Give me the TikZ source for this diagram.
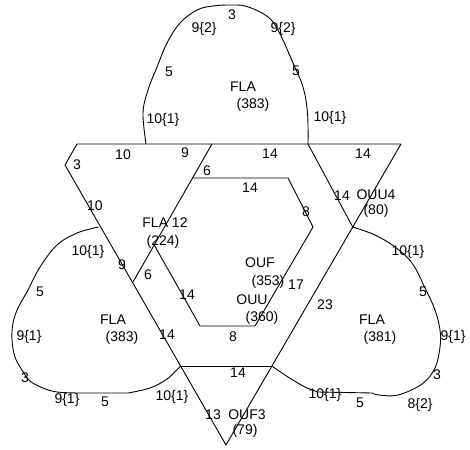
\documentclass[tikz,border=0pt]{standalone}
\usepackage{fontspec}
\setmainfont{Liberation Sans}
\begin{document}
\begin{tikzpicture}[x=1pt,y=-1pt,
  edge/.style={line width=0.9pt,line join=round},
  lbl/.style={inner sep=0pt,font=\fontsize{14}{16}\selectfont}]
\useasboundingbox[fill=white] (0,0) rectangle (470,449);
% outline coordinates
\coordinate (A) at (77,144);
\coordinate (B) at (65,165);
\coordinate (C) at (226,445);
\coordinate (D) at (401,144);
\coordinate (E) at (212,144);
\coordinate (F) at (133,282);
\coordinate (G) at (308,144);
\coordinate (J) at (352.7,227);
\coordinate (K) at (180.6,366);
\coordinate (L) at (271.9,366);
\coordinate (H1) at (192.5,178);
\coordinate (H2) at (288,178);
\coordinate (H3) at (313,227);
\coordinate (H4) at (255,326);
\coordinate (H5) at (200,326);
\coordinate (H6) at (154.2,245);
\coordinate (TL) at (146,144);
\coordinate (LL) at (98.5,227);
% triangle
\draw[edge] (D) -- (A) -- (B) -- (C) -- (D);
\draw[edge] (E) -- (F);
\draw[edge] (G) -- (J);
\draw[edge] (K) -- (L);
% hexagon
\draw[edge] (H1) -- (H2) -- (H3) -- (H4) -- (H5) -- (H6);
% top lobe
\draw[edge] plot[smooth,tension=0.6] coordinates {(TL) (143,113) (148,90) (157,67) (167,43) (180,23) (197,10) (213,6) (230,5) (245,6) (262,13) (273,22) (282,38) (293,63) (303,87) (307.5,113) (G)};
% left lobe
\draw[edge] plot[smooth,tension=0.6] coordinates {(LL) (77,233) (57,245) (40,267) (28,290) (18,308) (13,323) (12,340) (15,357) (22,370) (30,381) (43,388) (57,392) (78,393)}
  -- (128,393) plot[smooth,tension=0.6] coordinates {(128,393) (150,388) (167,379) (K)};
% right lobe
\draw[edge] plot[smooth,tension=0.6] coordinates {(J) (375,235) (395,247) (412,263) (425,288) (435,310) (440,330) (440,347) (435,368) (422,384) (398,395) (379,395) (372,393)}
  -- (318,392) plot[smooth,tension=0.6] coordinates {(318,392) (305,387) (288,377) (L)};
% top lobe labels
\node[lbl] (t1) at (232,15) {3};
\node[lbl] (t2) at (204,29) {9\{2\}};
\node[lbl] (t3) at (283,29) {9\{2\}};
\node[lbl] (t4) at (169,72) {5};
\node[lbl] (t5) at (296,71) {5};
\node[lbl] (t6) at (243,87) {FLA};
\node[lbl] (t7) at (253,105) {(383)};
\node[lbl] (t8) at (163,120) {10\{1\}};
\node[lbl] (t9) at (330,118) {10\{1\}};
% upper band labels
\node[lbl] (u1) at (77,165) {3};
\node[lbl] (u2) at (123,155) {10};
\node[lbl] (u3) at (185,153) {9};
\node[lbl] (u4) at (207,171) {6};
\node[lbl] (u5) at (270,154) {14};
\node[lbl] (u6) at (363,154) {14};
\node[lbl] (u7) at (250,188) {14};
\node[lbl] (u8) at (306,212) {8};
\node[lbl] (u9) at (342,196) {14};
\node[lbl] (u10) at (376,195) {OUU4};
\node[lbl] (u11) at (376,211) {(80)};
% left middle labels
\node[lbl] (m1) at (95,206) {10};
\node[lbl] (m2) at (165,223) {FLA 12};
\node[lbl] (m3) at (163,242) {(224)};
\node[lbl] (m4) at (122,265) {9};
\node[lbl] (m5) at (148,275) {6};
\node[lbl] (m6) at (187,295) {14};
% centre labels
\node[lbl] (c1) at (260,263) {OUF};
\node[lbl] (c2) at (268,282) {(353)};
\node[lbl] (c3) at (296,285) {17};
\node[lbl] (c4) at (252,300) {OUU};
\node[lbl] (c5) at (262,318) {(360)};
\node[lbl] (c6) at (325,305) {23};
\node[lbl] (c7) at (233,337) {8};
\node[lbl] (c8) at (238,373) {14};
% left lobe labels
\node[lbl] (a1) at (88,252) {10\{1\}};
\node[lbl] (a2) at (40,292) {5};
\node[lbl] (a3) at (29,337) {9\{1\}};
\node[lbl] (a4) at (25,378) {3};
\node[lbl] (a5) at (67,400) {9\{1\}};
\node[lbl] (a6) at (105,402) {5};
\node[lbl] (a7) at (172,397) {10\{1\}};
\node[lbl] (a8) at (113,320) {FLA};
\node[lbl] (a9) at (122,338) {(383)};
\node[lbl] (a10) at (167,335) {14};
% right lobe labels
\node[lbl] (r1) at (408,252) {10\{1\}};
\node[lbl] (r2) at (423,292) {5};
\node[lbl] (r3) at (372,320) {FLA};
\node[lbl] (r4) at (380,338) {(381)};
\node[lbl] (r5) at (453,337) {9\{1\}};
\node[lbl] (r6) at (437,375) {3};
\node[lbl] (r7) at (420,405) {8\{2\}};
\node[lbl] (r8) at (360,403) {5};
\node[lbl] (r9) at (325,395) {10\{1\}};
% bottom labels
\node[lbl] (b1) at (213,415) {13};
\node[lbl] (b2) at (247,415) {OUF3};
\node[lbl] (b3) at (245,431) {(79)};
\end{tikzpicture}
\end{document}
